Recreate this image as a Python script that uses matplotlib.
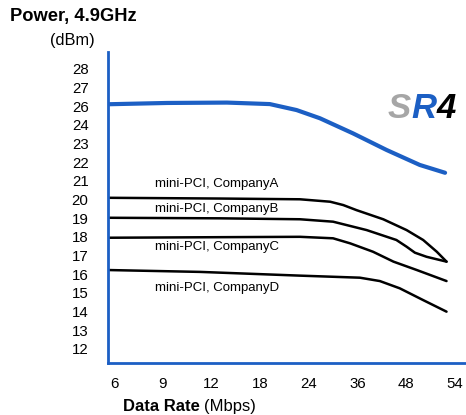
import numpy as np
import matplotlib
matplotlib.use("Agg")
import matplotlib.pyplot as plt

plt.rcParams['font.family'] = ['Liberation Sans', 'DejaVu Sans']

# Category axis (evenly spaced)
rate_labels = ["6", "9", "12", "18", "24", "36", "48", "54"]
# Y tick labels (evenly spaced, 25 absent as in original)
power_labels = [12, 13, 14, 15, 16, 17, 18, 19, 20, 21, 22, 23, 24, 26, 27, 28]

# Series: x as position along the category axis, y in dBm
sr4_x = [-0.14, 1.09, 2.32, 3.20, 3.75, 4.23, 4.91, 5.60, 6.28, 6.80]
sr4_y = [26.11, 26.18, 26.20, 26.12, 25.60, 24.72, 23.55, 22.66, 21.86, 21.44]

a_x = [-0.12, 2.18, 3.82, 4.44, 4.71, 4.98, 5.53, 6.01, 6.35, 6.63, 6.83]
a_y = [20.10, 20.06, 20.02, 19.89, 19.71, 19.44, 18.95, 18.37, 17.84, 17.21, 16.68]

b_x = [-0.12, 2.18, 3.82, 4.50, 5.19, 5.80, 6.01, 6.18, 6.42, 6.83]
b_y = [19.03, 19.00, 18.95, 18.82, 18.37, 17.84, 17.48, 17.16, 16.94, 16.68]

c_x = [-0.12, 2.18, 3.82, 4.50, 4.85, 5.32, 5.74, 6.22, 6.83]
c_y = [17.96, 17.99, 18.01, 17.93, 17.66, 17.21, 16.68, 16.23, 15.64]

d_x = [-0.12, 1.77, 3.82, 5.05, 5.46, 5.87, 6.35, 6.83]
d_y = [16.23, 16.13, 15.93, 15.82, 15.64, 15.25, 14.62, 14.00]

series_names = ["mini-PCI, CompanyA", "mini-PCI, CompanyB",
                "mini-PCI, CompanyC", "mini-PCI, CompanyD"]

BLUE = "#1c5fc4"
W, H = 466, 415

ypos = np.arange(len(power_labels))
def to_pos(v):
    return np.interp(v, power_labels, ypos)

fig = plt.figure(figsize=(W / 100, H / 100), dpi=100)
ax = fig.add_axes([108 / W, (H - 363) / H, (W - 108) / W, (363 - 52) / H])

ax.plot(sr4_x, to_pos(np.array(sr4_y)), color=BLUE, lw=3.0,
        solid_capstyle='round', solid_joinstyle='round')
for xs, ys in [(a_x, a_y), (b_x, b_y), (c_x, c_y), (d_x, d_y)]:
    ax.plot(xs, to_pos(np.array(ys)), color="black", lw=1.8,
            solid_capstyle='round', solid_joinstyle='round')

ax.set_xlim(-0.123, 7.23)
ax.set_ylim(-0.75, 15.91)
ax.set_xticks(range(len(rate_labels)))
ax.set_xticklabels(rate_labels, fontsize=10.8)
ax.set_yticks(ypos)
ax.set_yticklabels([str(v) for v in power_labels], fontsize=10.8)
ax.tick_params(axis='both', length=0)
ax.tick_params(axis='y', pad=14)
ax.tick_params(axis='x', pad=10)
for s in ["top", "right"]:
    ax.spines[s].set_visible(False)
for s in ["left", "bottom"]:
    ax.spines[s].set_color(BLUE)
    ax.spines[s].set_linewidth(2.0)

# Series labels
label_y_px = [184, 209, 247, 288]
for name, py in zip(series_names, label_y_px):
    fig.text(155 / W, 1 - py / H, name, fontsize=9.5, va='center', ha='left')

# Titles
fig.text(10 / W, 1 - 17 / H, "Power, 4.9GHz", fontsize=13.2, fontweight='bold',
         va='center', ha='left')
fig.text(50 / W, 1 - 40 / H, "(dBm)", fontsize=11.8, va='center', ha='left')

t1 = fig.text(123 / W, 1 - 406 / H, "Data Rate", fontsize=12, fontweight='bold',
              va='center', ha='left')
fig.canvas.draw()
bb = t1.get_window_extent()
fig.text((bb.x1 + 4) / W, 1 - 406 / H, "(Mbps)", fontsize=12, va='center', ha='left')

# SR4 logo
s1 = fig.text(388 / W, 1 - 109 / H, "S", fontsize=25, fontweight='bold', style='italic',
              color="#a6a6a6", va='center', ha='left')
fig.canvas.draw()
b1 = s1.get_window_extent()
s2 = fig.text(b1.x1 / W, 1 - 109 / H, "R", fontsize=25, fontweight='bold', style='italic',
              color=BLUE, va='center', ha='left')
fig.canvas.draw()
b2 = s2.get_window_extent()
fig.text(b2.x1 / W, 1 - 109 / H, "4", fontsize=25, fontweight='bold', style='italic',
         color="black", va='center', ha='left')

fig.savefig("out.png", dpi=100)
